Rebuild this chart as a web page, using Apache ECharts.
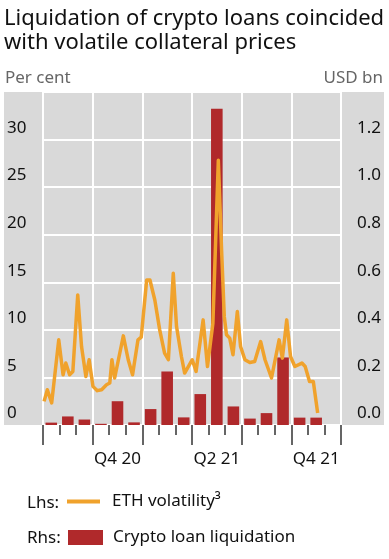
<!DOCTYPE html>
<html><head><meta charset="utf-8">
<script src="https://cdn.jsdelivr.net/npm/echarts@6/dist/echarts.min.js"></script>
<style>html,body{margin:0;padding:0;background:#fff}#c{width:389px;height:559px}</style>
</head><body><div id="c"></div>
<script>
var months = ['Jul 20','Aug 20','Sep 20','Oct 20','Nov 20','Dec 20','Jan 21','Feb 21','Mar 21','Apr 21','May 21','Jun 21','Jul 21','Aug 21','Sep 21','Oct 21','Nov 21','Dec 21'];
var quarters = ['Q3 20','Q4 20','Q1 21','Q2 21','Q3 21','Q4 21'];
var liquidation = [0.01,0.036,0.023,0.005,0.10,0.011,0.067,0.225,0.032,0.13,1.33,0.078,0.027,0.05,0.284,0.031,0.031,null];
var ethDates = ['2020-07-03','2020-07-09','2020-07-17','2020-07-30','2020-08-07','2020-08-12','2020-08-19','2020-08-25','2020-09-03','2020-09-10','2020-09-18','2020-09-24','2020-10-01','2020-10-09','2020-10-17','2020-10-26','2020-11-01','2020-11-05','2020-11-10','2020-11-26','2020-12-05','2020-12-13','2020-12-23','2020-12-29','2021-01-08','2021-01-14','2021-01-23','2021-02-01','2021-02-10','2021-02-17','2021-02-26','2021-03-04','2021-03-13','2021-03-19','2021-03-22','2021-04-02','2021-04-09','2021-04-22','2021-04-30','2021-05-10','2021-05-20','2021-05-26','2021-05-31','2021-06-04','2021-06-10','2021-06-16','2021-06-24','2021-06-30','2021-07-08','2021-07-17','2021-07-26','2021-08-06','2021-08-14','2021-08-26','2021-09-09','2021-09-15','2021-09-23','2021-09-30','2021-10-08','2021-10-21','2021-10-27','2021-11-04','2021-11-11','2021-11-19'];
var ethVol = [2.48,3.71,2.32,8.95,5.28,6.51,5.28,5.63,13.67,8.25,5.10,6.86,4.06,3.61,3.71,4.23,4.41,6.86,4.94,9.37,6.86,5.28,8.95,9.23,15.24,15.24,13.14,10.0,7.56,6.86,15.94,10.35,7.2,5.46,5.46,6.86,5.63,11.05,6.15,10.7,27.82,18.39,11.39,9.48,9.13,7.38,11.92,8.25,6.86,6.57,6.68,8.77,6.86,4.94,8.95,7.03,11.05,7.2,6.15,6.51,6.15,4.58,4.58,1.27];
var leftTicks = [0,5,10,15,20,25,30];
var rightTicks = [0,0.2,0.4,0.6,0.8,1.0,1.2];

var FONT = 'Noto Sans';
var chart = echarts.init(document.getElementById('c'));
var ethData = ethDates.map(function(d,i){return [d, ethVol[i]];});
chart.setOption({
  animation:false,
  textStyle:{fontFamily:FONT},
  title:{text:'Liquidation of crypto loans coincided\nwith volatile collateral prices',left:4,top:7,padding:0,
    textStyle:{fontFamily:FONT,fontSize:22,fontWeight:'normal',color:'#111',lineHeight:24}},
  graphic:[
    {type:'rect',z:-10,silent:true,shape:{x:4,y:92,width:380,height:333},style:{fill:'#d9d9d9'}},
    {type:'text',left:5,top:70,style:{text:'Per cent',font:'17px "Noto Sans"',fill:'#666'}},
    {type:'text',right:6,top:70,style:{text:'USD bn',font:'17px "Noto Sans"',fill:'#666'}},
    {type:'text',x:27,y:503,style:{text:'Lhs:',font:'17px "Noto Sans"',fill:'#111',verticalAlign:'middle'}},
    {type:'text',x:27,y:538,style:{text:'Rhs:',font:'17px "Noto Sans"',fill:'#111',verticalAlign:'middle'}}
  ],
  legend:[
    {data:['ETH volatility'],left:67,top:493,padding:0,itemWidth:33,itemHeight:4,icon:'rect',
      formatter:function(n){return n+'³';},
      textStyle:{fontFamily:FONT,fontSize:17,color:'#111',padding:[0,0,0,7]}},
    {data:['Crypto loan liquidation'],left:68,top:529,padding:0,itemWidth:35,itemHeight:15,icon:'rect',
      textStyle:{fontFamily:FONT,fontSize:17,color:'#111',padding:[0,0,0,5]}}
  ],
  grid:{left:43,right:48,top:92,bottom:134,containLabel:false},
  xAxis:[
    {type:'category',data:months,boundaryGap:true,position:'bottom',
      axisLine:{show:false},axisTick:{show:true,interval:0,length:10,lineStyle:{color:'#333',width:1.5}},
      axisLabel:{show:false},splitLine:{show:false}},
    {type:'category',data:quarters,boundaryGap:true,position:'bottom',
      axisLine:{show:false},axisTick:{show:true,interval:0,length:20,lineStyle:{color:'#333',width:1.5}},
      axisLabel:{show:true,interval:function(i){return i%2===1;},margin:26,fontSize:17,color:'#111',fontFamily:FONT},
      splitLine:{show:true,interval:0,lineStyle:{color:'#fff',width:2}}},
    {type:'time',min:'2020-07-01',max:'2022-01-01',show:false}
  ],
  yAxis:[
    {type:'value',min:0,max:35,interval:5,position:'left',
      axisLine:{show:false},axisTick:{show:false},
      axisLabel:{align:'left',margin:36,fontSize:17,color:'#111',fontFamily:FONT,verticalAlign:'bottom',padding:[0,0,3,0],
        formatter:function(v){return leftTicks.indexOf(v)>=0?String(v):'';}},
      splitLine:{show:true,lineStyle:{color:'#fff',width:2}}},
    {type:'value',min:0,max:1.4,interval:0.2,position:'right',
      axisLine:{show:false},axisTick:{show:false},
      axisLabel:{align:'right',margin:40,fontSize:17,color:'#111',fontFamily:FONT,verticalAlign:'bottom',padding:[0,0,3,0],
        formatter:function(v){var r=Math.round(v*10)/10;return rightTicks.indexOf(r)>=0?r.toFixed(1):'';}},
      splitLine:{show:false}}
  ],
  series:[
    {name:'Crypto loan liquidation',type:'bar',xAxisIndex:0,yAxisIndex:1,data:liquidation,barCategoryGap:'30%',
      itemStyle:{color:'#b0292b'},z:2},
    {name:'ETH volatility',type:'line',xAxisIndex:2,yAxisIndex:0,data:ethData,showSymbol:false,symbol:'none',
      lineStyle:{color:'#f0a22c',width:3.5,join:'round'},itemStyle:{color:'#f0a22c'},z:3}
  ]
});
</script></body></html>
